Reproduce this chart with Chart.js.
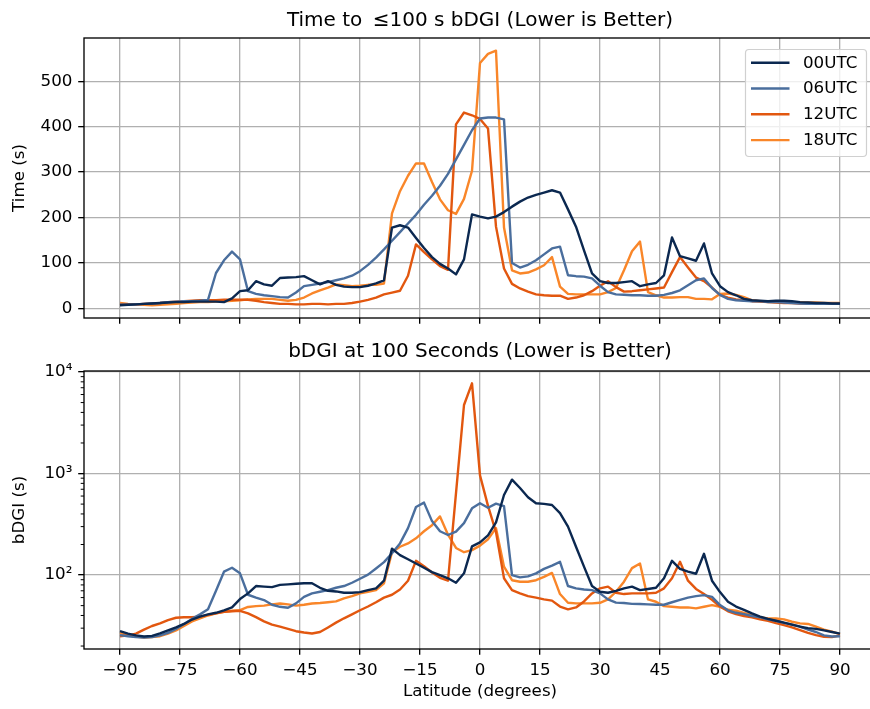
<!DOCTYPE html>
<html><head><meta charset="utf-8">
<script src="https://cdn.jsdelivr.net/npm/chart.js@4/dist/chart.umd.min.js"></script>
<style>
html,body{margin:0;padding:0;background:#fff;}
#wrap{position:relative;width:870px;height:709px;overflow:hidden;background:#fff;}
canvas{position:absolute;left:0;}
</style></head><body>
<div id="wrap">
<canvas id="topc" width="876" height="340" style="top:0;width:876px;height:340px"></canvas>
<canvas id="botc" width="876" height="369" style="top:340px;width:876px;height:369px"></canvas>
</div>
<script>
const latitudes = [-90,-88,-86,-84,-82,-80,-78,-76,-74,-72,-70,-68,-66,-64,-62,-60,-58,-56,-54,-52,-50,-48,-46,-44,-42,-40,-38,-36,-34,-32,-30,-28,-26,-24,-22,-20,-18,-16,-14,-12,-10,-8,-6,-4,-2,0,2,4,6,8,10,12,14,16,18,20,22,24,26,28,30,32,34,36,38,40,42,44,46,48,50,52,54,56,58,60,62,64,66,68,70,72,74,76,78,80,82,84,86,88,90];
const seriesNames = ['00UTC','06UTC','12UTC','18UTC'];
const seriesColors = ['#0b2850','#4a6e9d','#e2570f','#f98629'];

const time00 = [7,8,9,10,11,12,13,14,14,15, 15,15,15,14,22,38,40,60,53,50, 67,68,69,71,62,53,60,52,48,47, 47,50,55,62,178,183,178,155,133,113, 98,88,75,108,207,202,198,202,212,224, 235,244,250,255,260,255,218,180,128,77, 60,56,56,58,60,49,53,56,73,156, 115,110,105,143,77,49,36,29,21,18, 17,16,17,17,16,14,13,12,12,11, 11];
const time06 = [8,8,9,10,11,12,14,15,16,16, 17,19,78,106,125,108,38,32,29,27, 25,24,35,49,52,55,58,62,66,72, 82,96,112,130,149,168,187,206,228,248, 270,296,328,360,392,418,420,420,416,100, 90,96,106,119,132,136,73,71,70,66, 50,36,31,30,29,29,28,28,30,34, 40,51,62,66,45,30,21,18,17,16, 16,14,14,13,12,11,10,10,10,10, 10];
const time12 = [9,9,9,10,11,12,14,15,16,17, 18,18,18,19,19,19,19,17,14,12, 10,10,9,9,10,10,9,10,10,12, 15,19,24,31,35,39,72,141,124,108, 93,85,405,431,425,417,396,180,88,54, 44,37,31,29,28,28,21,24,29,38, 50,60,47,37,38,40,42,44,46,80, 113,90,68,60,46,30,24,20,18,16, 15,14,13,12,12,11,11,10,10,10, 10];
const time18 = [12,10,9,8,7,8,9,10,12,13, 14,14,15,16,17,18,20,21,21,21, 19,17,19,24,33,40,46,53,51,49, 50,52,52,55,209,258,292,319,319,278, 240,216,208,241,303,540,560,567,178,84, 77,79,86,95,113,48,32,31,31,31, 31,36,45,84,126,147,36,29,24,24, 25,25,21,21,20,32,33,30,25,18, 16,15,14,14,14,14,13,13,12,12, 12];

const bdgi00 = [28,26.5,25.5,24.8,25.2,26.6,28.5,30.5,33,36.5, 39,41,42.5,45,48,58,66,78,77,76, 80,81,82,83,83,75,70,69,67,67, 68,71,74,88,182,157,143,130,118,107, 100,93,84,104,192,210,246,330,615,870, 720,583,509,502,490,408,300,190,121,78, 68.5,67,70,74,77,71,73,75,93,138, 115,108,103,162,88,68,54.6,49,45.5,42, 39,37,35.5,34,32.5,31,30,29.5,28.5,27.5, 26.5];
const bdgi06 = [25.6,25,24.5,24.3,24.5,25.5,27,29.5,33,37, 41,46,70,108,118,104,64,60,56.7,51, 48.7,47.6,52.6,61,66,68.5,71,75,78,84, 92,101,116,134,164,205,290,468,517,340, 270,248,268,325,454,509,460,505,478,100, 95,97,104,115,124,135,78,74,72,71, 66,57.6,53.5,53,52,51.8,51.5,51,51,54, 57,60,62,63.5,61,50.6,45,42.5,41.3,39.5, 38.4,36.6,35.4,33.8,32.5,31,29,27.5,25.5,24.8, 25];
const bdgi12 = [25,25.5,26.5,29,31.5,33.4,36,38,38.4,38.4, 39,40.5,42,43.5,44,44.5,42,38.5,35,32.5, 31,29.5,28,27.2,26.6,27.5,30.5,34,37.5,41, 45,49,54,60,64,72,88,138,122,106, 94,88,640,4730,7740,960,480,265,93,71, 66,62,60,57.6,56,49,46,48,55,66, 74,77,67,65,66,66,66,67,74,93, 135,88,73,65,57,49,44,41.3,39.5,38.4, 36.6,35.4,33.6,32.2,30.5,28.7,27,25.6,24.7,24.5, 25.5];
const bdgi18 = [27,25.5,24.8,24.3,24.5,25,26.5,28.5,31.5,35, 37.5,40,42,43.5,44.5,45.2,48.5,49.5,50,51.5, 52.5,51.5,50,51,52.5,53,54,55,59,62, 66,68.5,71,83,168,190,205,230,270,310, 378,250,185,168,176,195,225,290,121,89, 86,86,89,96,105,65,53.3,52.6,52.6,52.6, 53.3,57.6,68.5,86,117,130,57.6,54.6,49.5,48.7, 48,48,47,48.7,50.6,48.7,45.5,44.5,42.5,40.4, 38.4,37.4,37.4,36.6,34.7,33.4,33,31,29,27.7, 26.2];

const xTickValues = [-90,-75,-60,-45,-30,-15,0,15,30,45,60,75,90];
const xTickLabels = ['\u221290','\u221275','\u221260','\u221245','\u221230','\u221215','0','15','30','45','60','75','90'];
const yTicksTop = [0,100,200,300,400,500];
const yMajorBottom = [100,1000,10000];
const yMajorLabels = ['10\u00b2','10\u00b3','10\u2074'];
const yMinorBottom = [20,30,40,50,60,70,80,90,200,300,400,500,600,700,800,900,2000,3000,4000,5000,6000,7000,8000,9000];

const FONT = '"DejaVu Sans", sans-serif';
const TICK_FONT = {family: FONT, size: 16.7};
const TL = 5.8;

function makeDatasets(arrs) {
  return arrs.map((arr, i) => ({
    label: seriesNames[i],
    data: latitudes.map((x, j) => ({x: x, y: arr[j]})),
    borderColor: seriesColors[i],
    backgroundColor: seriesColors[i],
    borderWidth: 2.4,
    pointRadius: 0,
    tension: 0,
    fill: false,
    borderJoinStyle: 'round'
  }));
}

const frame = {
  id: 'frame',
  afterDraw(chart) {
    const {ctx, chartArea: a} = chart;
    ctx.save();
    ctx.strokeStyle = '#000';
    ctx.lineWidth = 1.33;
    ctx.strokeRect(a.left, a.top, a.right - a.left, a.bottom - a.top);
    ctx.restore();
  }
};

const minorTicks = {
  id: 'minorTicks',
  afterDraw(chart) {
    const s = chart.scales.y, ctx = chart.ctx;
    ctx.save();
    ctx.strokeStyle = '#000';
    ctx.lineWidth = 1;
    for (const v of yMinorBottom) {
      if (v < s.min || v > s.max) continue;
      const y = s.getPixelForValue(v);
      ctx.beginPath();
      ctx.moveTo(s.right - 3.3, y);
      ctx.lineTo(s.right, y);
      ctx.stroke();
    }
    ctx.restore();
  }
};

const legendBox = {
  id: 'legendBox',
  afterDraw(chart) {
    const ctx = chart.ctx;
    ctx.save();
    ctx.beginPath();
    ctx.roundRect(745.5, 49.5, 121, 107, 3.5);
    ctx.fillStyle = 'rgba(255,255,255,0.8)';
    ctx.fill();
    ctx.strokeStyle = '#d0d0d0';
    ctx.lineWidth = 1.2;
    ctx.stroke();
    chart.data.datasets.forEach((ds, i) => {
      const y = 62.7 + i * 25.8;
      ctx.strokeStyle = ds.borderColor;
      ctx.lineWidth = 2.4;
      ctx.beginPath();
      ctx.moveTo(751, y);
      ctx.lineTo(789.5, y);
      ctx.stroke();
      ctx.fillStyle = '#000';
      ctx.font = '16.7px ' + FONT;
      ctx.textBaseline = 'middle';
      ctx.textAlign = 'left';
      ctx.fillText(ds.label, 803, y + 0.5);
    });
    ctx.restore();
  }
};

function gridOpts() {
  return {color: '#b0b0b0', lineWidth: 1.33, drawTicks: true, tickLength: TL, tickColor: '#000', tickWidth: 1.33};
}

function xScale(showLabels) {
  return {
    type: 'linear', min: -99, max: 99,
    afterBuildTicks: s => { s.ticks = xTickValues.map(v => ({value: v})); },
    afterFit: s => { s.height = showLabels ? 60 : 22; },
    grid: gridOpts(),
    border: {display: false},
    ticks: {
      autoSkip: false, maxRotation: 0, padding: 5.8, color: '#000', font: TICK_FONT,
      callback: v => showLabels ? xTickLabels[xTickValues.indexOf(v)] : ''
    },
    title: showLabels ? {display: true, text: 'Latitude (degrees)', color: '#000', font: TICK_FONT, padding: {top: 0, bottom: 7}} : {display: false}
  };
}

function baseOptions(titleText, titlePad, yScale, showX) {
  return {
    responsive: false,
    animation: false,
    devicePixelRatio: 1,
    layout: {padding: 0},
    plugins: {
      legend: {display: false},
      tooltip: {enabled: false},
      title: {
        display: true, text: titleText, color: '#000', fullSize: false,
        font: {family: FONT, size: 20, weight: 'normal', lineHeight: 1},
        padding: titlePad
      }
    },
    scales: {x: xScale(showX), y: yScale}
  };
}

new Chart(document.getElementById('topc'), {
  type: 'line',
  data: {datasets: makeDatasets([time00, time06, time12, time18])},
  options: baseOptions('Time to \u2009\u2264100 s bDGI (Lower is Better)', {top: 10.5, bottom: 7.5}, {
    type: 'linear', min: -21, max: 595,
    afterBuildTicks: s => { s.ticks = yTicksTop.map(v => ({value: v})); },
    afterFit: s => { s.width = 84; },
    grid: gridOpts(),
    border: {display: false},
    ticks: {autoSkip: false, padding: 5.8, color: '#000', font: TICK_FONT, callback: v => String(v)},
    title: {display: true, text: 'Time (s)', color: '#000', font: TICK_FONT, padding: {top: 10, bottom: 0}}
  }, false),
  plugins: [frame, legendBox]
});

new Chart(document.getElementById('botc'), {
  type: 'line',
  data: {datasets: makeDatasets([bdgi00, bdgi06, bdgi12, bdgi18])},
  options: baseOptions('bDGI at 100 Seconds (Lower is Better)', {top: 2, bottom: 9}, {
    type: 'logarithmic', min: 18.7, max: 10230,
    afterBuildTicks: s => { s.ticks = yMajorBottom.map(v => ({value: v, major: true})); },
    afterFit: s => { s.width = 84; },
    grid: gridOpts(),
    border: {display: false},
    ticks: {autoSkip: false, padding: 5.8, color: '#000', font: TICK_FONT,
      callback: v => { const k = yMajorBottom.indexOf(v); return k >= 0 ? yMajorLabels[k] : ''; }},
    title: {display: true, text: 'bDGI (s)', color: '#000', font: TICK_FONT, padding: {top: 10, bottom: 0}}
  }, true),
  plugins: [frame, minorTicks]
});
</script>
</body></html>
